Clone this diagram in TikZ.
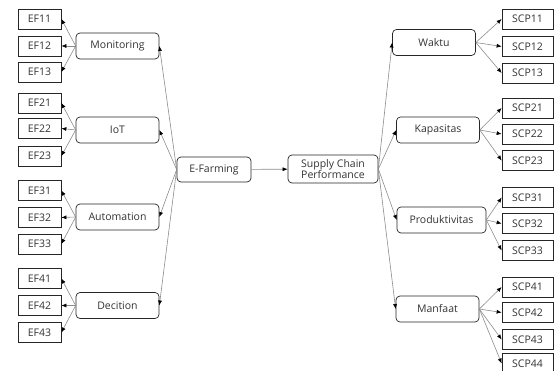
\documentclass[tikz,border=0pt]{standalone}
\usepackage{fontspec}
\setmainfont{Open Sans}
\usepackage{tikz}
\usetikzlibrary{positioning,arrows.meta}

\tikzset{
  leafbox/.style={draw=black!85, line width=0.7pt, minimum height=20pt, inner sep=0pt, text=black!80},
  efbox/.style={leafbox, minimum width=43pt},
  scpbox/.style={leafbox, minimum width=51pt},
  subbox/.style={draw=black!85, line width=0.7pt, rounded corners=4pt, minimum width=83pt, minimum height=26pt, inner sep=0pt, text=black!80},
  mainbox/.style={subbox, minimum width=74pt, minimum height=25pt, align=center},
  link/.style={draw=black!45, line width=0.6pt, -{Latex[length=5pt,width=4pt,black]}}
}

\begin{document}
\begin{tikzpicture}[x=1pt, y=-1pt, font=\fontsize{10.5}{11.5}\selectfont]
      % Define the frame
      \clip (0,0) rectangle (554,371);

      % Draw the central boxes
      \node[mainbox] (efarm) at (214,169.5) {E-Farming};
      \node[mainbox, minimum width=90pt, minimum height=28pt] (scperf) at (333,169) {Supply Chain\\Performance};
      \draw[link] (efarm) -- (scperf);

      % Draw the e-farming dimensions
      \node[subbox] (monit) at (117.5,46) {Monitoring};
      \node[subbox] (iot) at (117.5,130) {IoT};
      \node[subbox] (autom) at (117.5,217) {Automation};
      \node[subbox] (decit) at (117.5,305.5) {Decition};

      % Draw the e-farming indicators
      \node[efbox] (ef11) at (39.5,19) {EF11};
      \node[efbox] (ef12) at (39.5,46) {EF12};
      \node[efbox] (ef13) at (39.5,72) {EF13};
      \node[efbox] (ef21) at (39.5,103) {EF21};
      \node[efbox] (ef22) at (39.5,128.5) {EF22};
      \node[efbox] (ef23) at (39.5,156) {EF23};
      \node[efbox] (ef31) at (39.5,190.5) {EF31};
      \node[efbox] (ef32) at (39.5,217.5) {EF32};
      \node[efbox] (ef33) at (39.5,244) {EF33};
      \node[efbox] (ef41) at (39.5,278.5) {EF41};
      \node[efbox] (ef42) at (39.5,305.5) {EF42};
      \node[efbox] (ef43) at (39.5,332.5) {EF43};

      % Draw the supply chain dimensions
      \node[subbox] (waktu) at (434,42.5) {Waktu};
      \node[subbox] (kapas) at (438,130) {Kapasitas};
      \node[subbox, minimum width=89pt] (produk) at (441.5,220) {Produktivitas};
      \node[subbox] (manf) at (437.5,309) {Manfaat};

      % Draw the supply chain indicators
      \node[scpbox] (scp11) at (527.5,19) {SCP11};
      \node[scpbox] (scp12) at (527.5,46.5) {SCP12};
      \node[scpbox] (scp13) at (527.5,73) {SCP13};
      \node[scpbox] (scp21) at (527.5,108) {SCP21};
      \node[scpbox] (scp22) at (527.5,134) {SCP22};
      \node[scpbox] (scp23) at (527.5,160.5) {SCP23};
      \node[scpbox] (scp31) at (527.5,197.5) {SCP31};
      \node[scpbox] (scp32) at (527.5,223.5) {SCP32};
      \node[scpbox] (scp33) at (527.5,250.5) {SCP33};
      \node[scpbox] (scp41) at (527.5,287) {SCP41};
      \node[scpbox] (scp42) at (527.5,312.5) {SCP42};
      \node[scpbox] (scp43) at (527.5,339.5) {SCP43};
      \node[scpbox] (scp44) at (527.5,363.5) {SCP44};

      % Draw the links of e-farming
      \draw[link] (efarm.west) -- (monit.east);
      \draw[link] (efarm.west) -- (iot.east);
      \draw[link] (efarm.west) -- (autom.east);
      \draw[link] (efarm.west) -- (decit.east);
      \draw[link] (monit.west) -- (ef11.east);
      \draw[link] (monit.west) -- (ef12.east);
      \draw[link] (monit.west) -- (ef13.east);
      \draw[link] (iot.west) -- (ef21.east);
      \draw[link] (iot.west) -- (ef22.east);
      \draw[link] (iot.west) -- (ef23.east);
      \draw[link] (autom.west) -- (ef31.east);
      \draw[link] (autom.west) -- (ef32.east);
      \draw[link] (autom.west) -- (ef33.east);
      \draw[link] (decit.west) -- (ef41.east);
      \draw[link] (decit.west) -- (ef42.east);
      \draw[link] (decit.west) -- (ef43.east);

      % Draw the links of supply chain performance
      \draw[link] (scperf.east) -- (waktu.west);
      \draw[link] (scperf.east) -- (kapas.west);
      \draw[link] (scperf.east) -- (produk.west);
      \draw[link] (scperf.east) -- (manf.west);
      \draw[link] (waktu.east) -- (scp11.west);
      \draw[link] (waktu.east) -- (scp12.west);
      \draw[link] (waktu.east) -- (scp13.west);
      \draw[link] (kapas.east) -- (scp21.west);
      \draw[link] (kapas.east) -- (scp22.west);
      \draw[link] (kapas.east) -- (scp23.west);
      \draw[link] (produk.east) -- (scp31.west);
      \draw[link] (produk.east) -- (scp32.west);
      \draw[link] (produk.east) -- (scp33.west);
      \draw[link] (manf.east) -- (scp41.west);
      \draw[link] (manf.east) -- (scp42.west);
      \draw[link] (manf.east) -- (scp43.west);
      \draw[link] (manf.east) -- (scp44.west);
    \end{tikzpicture}
\end{document}
